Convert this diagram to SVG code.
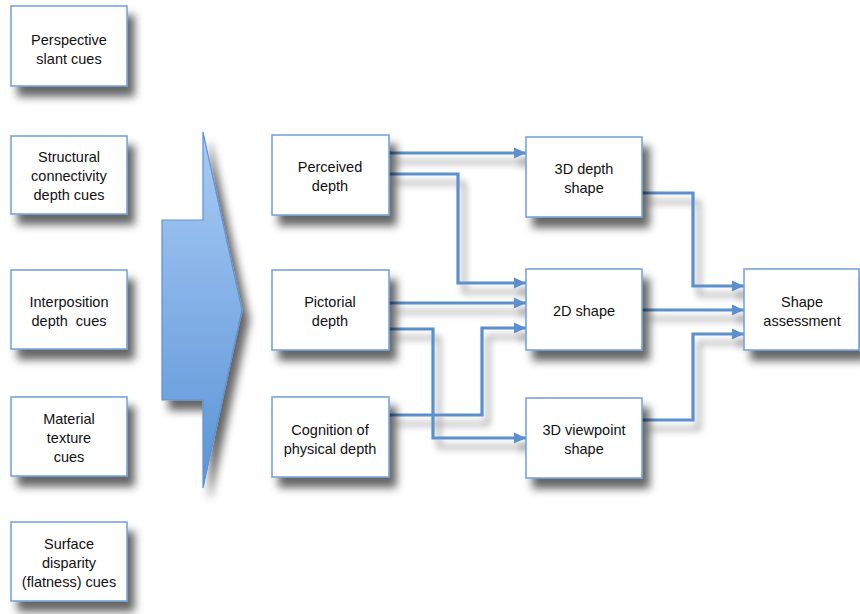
<svg xmlns="http://www.w3.org/2000/svg" width="860" height="614" viewBox="0 0 860 614">
<defs>
<style>
.box{fill:#fff;stroke:#6f9fd6;stroke-width:1.5}
.t{font-family:"Liberation Sans",Arial,sans-serif;font-size:14.5px;fill:#111;text-anchor:middle;white-space:pre}
.c{fill:none;stroke:#5b8fcd;stroke-width:3.2;stroke-linejoin:miter}
</style>
<filter id="sh" x="-30%" y="-30%" width="170%" height="190%">
<feDropShadow dx="7" dy="10" stdDeviation="4" flood-color="#000" flood-opacity="0.6"/>
</filter>
<filter id="shc" x="-10%" y="-10%" width="130%" height="140%">
<feDropShadow dx="6" dy="9" stdDeviation="3.5" flood-color="#000" flood-opacity="0.4"/>
</filter>
<linearGradient id="g" x1="0" y1="0" x2="0" y2="1">
<stop offset="0" stop-color="#a9cbf6"/>
<stop offset="1" stop-color="#5a94d6"/>
</linearGradient>
<marker id="ah" markerUnits="userSpaceOnUse" markerWidth="14" markerHeight="12" refX="12" refY="6" orient="auto">
<path d="M0,0.5 L12,6 L0,11.5 Z" fill="#5b8fcd"/>
</marker>
</defs>
<rect width="860" height="614" fill="#fff"/>

<g id="big-arrow" filter="url(#sh)">
<polygon points="203,132 242,310 203,488 203,400 162,400 162,220 203,220" fill="url(#g)" stroke="#5f93cf" stroke-width="1.2"/>
</g>

<g id="connectors" filter="url(#shc)">
<path class="c" d="M389,153 H526" marker-end="url(#ah)"/>
<path class="c" d="M389,174 H458 V283 H526" marker-end="url(#ah)"/>
<path class="c" d="M389,303 H526" marker-end="url(#ah)"/>
<path class="c" d="M389,329 H433 V438 H526" marker-end="url(#ah)"/>
<path class="c" d="M389,415 H482 V328 H526" marker-end="url(#ah)"/>
<path class="c" d="M642,193 H693 V286 H744" marker-end="url(#ah)"/>
<path class="c" d="M642,310 H744" marker-end="url(#ah)"/>
<path class="c" d="M642,420 H693 V334 H744" marker-end="url(#ah)"/>
</g>

<g id="perspective" filter="url(#sh)"><rect class="box" x="11" y="6" width="116" height="80"/></g>
<g id="perspective-text"><text class="t" x="69" y="45">Perspective</text><text class="t" x="69" y="64">slant cues</text></g>

<g id="structural" filter="url(#sh)"><rect class="box" x="11" y="136" width="116" height="78"/></g>
<g id="structural-text"><text class="t" x="69" y="162">Structural</text><text class="t" x="69" y="181">connectivity</text><text class="t" x="69" y="200">depth cues</text></g>

<g id="interposition" filter="url(#sh)"><rect class="box" x="11" y="270" width="116" height="79"/></g>
<g id="interposition-text"><text class="t" x="69" y="307">Interposition</text><text class="t" x="69" y="326">depth  cues</text></g>

<g id="material" filter="url(#sh)"><rect class="box" x="11" y="397" width="116" height="79"/></g>
<g id="material-text"><text class="t" x="69" y="424">Material</text><text class="t" x="69" y="443">texture</text><text class="t" x="69" y="462">cues</text></g>

<g id="surface" filter="url(#sh)"><rect class="box" x="11" y="522" width="116" height="79"/></g>
<g id="surface-text"><text class="t" x="69" y="549">Surface</text><text class="t" x="69" y="568">disparity</text><text class="t" x="69" y="587">(flatness) cues</text></g>

<g id="perceived" filter="url(#sh)"><rect class="box" x="272" y="135" width="117" height="80"/></g>
<g id="perceived-text"><text class="t" x="330" y="172">Perceived</text><text class="t" x="330" y="191">depth</text></g>

<g id="pictorial" filter="url(#sh)"><rect class="box" x="272" y="270" width="117" height="80"/></g>
<g id="pictorial-text"><text class="t" x="330" y="307">Pictorial</text><text class="t" x="330" y="326">depth</text></g>

<g id="cognition" filter="url(#sh)"><rect class="box" x="272" y="397" width="117" height="80"/></g>
<g id="cognition-text"><text class="t" x="330" y="435">Cognition of</text><text class="t" x="330" y="454">physical depth</text></g>

<g id="depth3d" filter="url(#sh)"><rect class="box" x="526" y="137" width="116" height="80"/></g>
<g id="depth3d-text"><text class="t" x="584" y="174">3D depth</text><text class="t" x="584" y="193">shape</text></g>

<g id="shape2d" filter="url(#sh)"><rect class="box" x="526" y="269" width="116" height="81"/></g>
<g id="shape2d-text"><text class="t" x="584" y="316">2D shape</text></g>

<g id="viewpoint3d" filter="url(#sh)"><rect class="box" x="526" y="398" width="116" height="80"/></g>
<g id="viewpoint3d-text"><text class="t" x="584" y="435">3D viewpoint</text><text class="t" x="584" y="454">shape</text></g>

<g id="assessment" filter="url(#sh)"><rect class="box" x="744" y="269" width="115" height="81"/></g>
<g id="assessment-text"><text class="t" x="802" y="307">Shape</text><text class="t" x="802" y="326">assessment</text></g>
</svg>
